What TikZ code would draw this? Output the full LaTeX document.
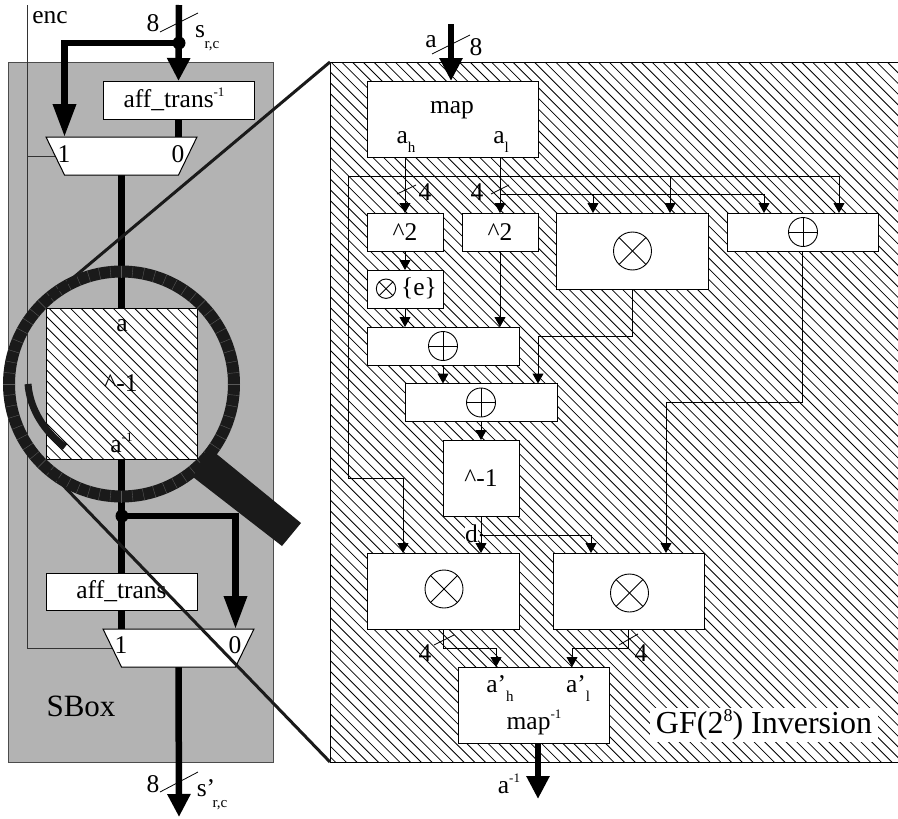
\documentclass[tikz,border=0pt]{standalone}
\usepackage{fontspec}
\setmainfont{Liberation Serif}
\usetikzlibrary{arrows.meta,shapes.geometric}
\definecolor{boxgray}{HTML}{B3B3B3}
\definecolor{lensdark}{HTML}{1A1A1A}
\newcommand{\lab}{\fontsize{25.5}{26}\selectfont}
\newcommand{\supt}[1]{\raisebox{11pt}{\fontsize{13}{13}\selectfont #1}}
\newcommand{\subt}[1]{\raisebox{-9pt}{\fontsize{15}{15}\selectfont #1}}
\newcommand{\symotimes}[3]{\draw[symline] (#1,#2) circle (#3pt);
  \draw[symline] (#1,#2) ++(45:#3pt) -- ++(225:2*#3pt);
  \draw[symline] (#1,#2) ++(135:#3pt) -- ++(315:2*#3pt);}
\newcommand{\symoplus}[3]{\draw[symline] (#1,#2) circle (#3pt);
  \draw[symline] (#1,#2) ++(0:#3pt) -- ++(180:2*#3pt);
  \draw[symline] (#1,#2) ++(90:#3pt) -- ++(270:2*#3pt);}
\newcommand{\muxshape}[1]{\draw[muxbox] ([xshift=-75.5pt,yshift=19pt]#1.center) -- ([xshift=75.5pt,yshift=19pt]#1.center) -- ([xshift=57pt,yshift=-19pt]#1.center) -- ([xshift=-57pt,yshift=-19pt]#1.center) -- cycle;}
\tikzset{
  x=1pt,y=-1pt,
  txt/.style={inner sep=0pt,outer sep=0pt,font=\lab},
  box/.style={draw=black,line width=1pt,fill=white,inner sep=0pt,outer sep=0pt,font=\lab,align=center},
  hatchfill/.style={path picture={\foreach \k in {-650,-639.3,...,650}
      \draw[black,line width=.8pt] ({\k-720},-720) -- ({\k+720},720);}},
  wire/.style={line width=1pt,-{Triangle[width=11pt,length=10pt]}},
  plain/.style={line width=1pt},
  bus/.style={line width=6.5pt,line join=miter},
  busarrow/.style={bus,-{Triangle[width=22pt,length=23pt]}},
  busarrowlong/.style={bus,-{Triangle[width=22pt,length=33pt]}},
  busdot/.style={circle,fill=black,minimum size=13pt,inner sep=0pt,outer sep=0pt},
  wiredot/.style={circle,fill=black,minimum size=3pt,inner sep=0pt,outer sep=0pt},
  tickmark/.style={line width=.8pt},
  symline/.style={line width=.9pt},
  muxbox/.style={draw=black,line width=1pt,fill=white},
  lensline/.style={line width=3pt,lensdark},
}
\begin{document}
\begin{tikzpicture}
\useasboundingbox (0,0) rectangle (898,819);
% SBox background
\node[draw=black!70,line width=1pt,fill=boxgray,minimum width=265pt,minimum height=700pt,inner sep=0pt,outer sep=0pt] (sbox) at (140.5,412) {};
% right panel
\node[draw=black,line width=1pt,fill=white,hatchfill,minimum width=568pt,minimum height=700pt,inner sep=0pt,outer sep=0pt] (panel) at (614,412) {};

% enc
\coordinate (encin) at (27,5);
\coordinate (mux1) at (121.5,156);
\coordinate (mux2) at (178.5,648);
\draw[plain,black!80] (encin) |- ([xshift=-66pt]mux1.center);
\draw[plain,black!80] (encin) |- ([xshift=-66pt]mux2.center);
\node[txt] (enclab) at (50,18) {enc};

% left boxes
\node[box,minimum width=151pt,minimum height=38pt] (affi) at (178.5,100) {};
\node[txt] (affilab) at (174,99) {aff\_trans\supt{-1}};
\node[box,hatchfill,minimum width=151pt,minimum height=151pt] (inv) at (121.5,383.5) {};

% left buses
\coordinate (busin) at (179,5);
\node[busdot] (j1) at (179,43) {};
\draw[busarrow] (busin) -- (affi.north);
\draw[busarrowlong] (j1.center) -| ([xshift=-57pt,yshift=19pt]mux1.center);
\draw[bus] (affi.south) -- ([xshift=57pt,yshift=19pt]mux1.center);
\draw[bus] ([yshift=-19pt]mux1.center) -- (inv.north);
\node[box,minimum width=151pt,minimum height=37pt] (aff) at (121.5,591.5) {};
\draw[bus] (inv.south) -- (aff.north);
\node[busdot] (j2) at (122,516) {};
\draw[busarrowlong] (j2.center) -| ([xshift=57pt,yshift=19pt]mux2.center);
\draw[bus] (aff.south) -- ([xshift=-57pt,yshift=19pt]mux2.center);
\coordinate (busout) at (179,817);
\draw[busarrow] ([yshift=-19pt]mux2.center) -- (busout);
\node[txt] (afflab) at (121.5,591.5) {aff\_trans};

% muxes above the bus ends
\muxshape{mux1}
\muxshape{mux2}
\node[txt] (m1a) at (64,154) {1};
\node[txt] (m1b) at (178,154) {0};
\node[txt] (m2a) at (121,645) {1};
\node[txt] (m2b) at (235,645) {0};

\node[txt] (la) at (122,326) {a};
\node[txt] (lb) at (121,383) {\^{}-1};
\node[txt] (lc) at (121.5,443) {a\supt{-1}};
\node[txt,font=\fontsize{31}{32}\selectfont] (sb) at (81,706) {SBox};

\draw[tickmark] (160,32) -- (198,13);
\node[txt] (l8a) at (153,23) {8};
\node[txt] (ls) at (200,32) {s};
\node[txt,font=\fontsize{15}{15}\selectfont] (lrc) at (212,46) {r,c};
\draw[tickmark] (160,792) -- (198,772);
\node[txt] (l8b) at (153,784) {8};
\node[txt] (lsp) at (206,788) {s’};
\node[txt,font=\fontsize{15}{15}\selectfont] (lrcp) at (220,805) {r,c};

% lens
\node[circle,draw=lensdark,line width=12pt,minimum size=225pt,inner sep=0pt,outer sep=0pt] (lens) at (121.5,384) {};
\foreach \a in {0,5.625,...,359} \draw[black!65,line width=.4pt] (121.5,384) ++(\a:106.5pt) -- ++(\a:12pt);
\draw[lensdark,line width=7pt] (28,384) .. controls (30,410) and (45,432) .. (65,447);
\fill[lensdark] (208,447) -- (301,523) -- (282,546) -- (193,477) -- cycle;
\draw[lensline] (panel.north west) -- (lens.132);
\draw[lensline] (panel.south west) -- (lens.226);

% right boxes
\node[box,minimum width=171pt,minimum height=76pt] (map) at (452.5,119) {};
\node[box,minimum width=76pt,minimum height=38pt] (sqa) at (405,232) {\^{}2};
\node[box,minimum width=76pt,minimum height=38pt] (sqb) at (500,232) {\^{}2};
\node[box,minimum width=152pt,minimum height=76pt] (mula) at (632,251) {};
\node[box,minimum width=151pt,minimum height=38pt] (xora) at (802.5,232) {};
\node[box,minimum width=76pt,minimum height=38pt] (emul) at (405,289) {};
\node[box,minimum width=152pt,minimum height=38pt] (xorb) at (443,346) {};
\node[box,minimum width=152pt,minimum height=38pt] (xorc) at (481,402.5) {};
\node[box,minimum width=76pt,minimum height=76pt] (pinv) at (481,478) {\^{}-1};
\node[box,minimum width=152pt,minimum height=76pt] (mulb) at (443,591) {};
\node[box,minimum width=151pt,minimum height=76pt] (mulc) at (628.5,591) {};
\node[box,minimum width=151pt,minimum height=76pt] (imap) at (533.5,705) {};

\node[txt] (tm) at (452,110) {map};
\node[txt] (tah) at (406,142) {a\subt{h}};
\node[txt] (tal) at (501,142) {a\subt{l}};
\node[txt] (tmi) at (534,722) {map\supt{-1}};
\node[txt] (tah2) at (500,689) {a’\subt{h}};
\node[txt] (tal2) at (578,689) {a’\subt{l}};
\node[txt] (te) at (419,288) {\{e\}};
\symotimes{386}{288.7}{9.7}
\symotimes{632.5}{251}{19}
\symoplus{803}{232}{14.5}
\symoplus{443}{346}{14.5}
\symoplus{481}{402.5}{14.5}
\symotimes{444}{589}{19}
\symotimes{629.5}{593}{19}

% right connectors
\coordinate (ain) at (451,24);
\draw[busarrow] (ain) -- ([xshift=-1.5pt]map.north);
\draw[tickmark] (432,54) -- (470,35);
\node[txt] (ta) at (431,42) {a};
\node[txt] (t8) at (476,47) {8};

\draw[wire] ([xshift=-47.5pt]map.south) -- (sqa.north);
\draw[wire] ([xshift=47.5pt]map.south) -- (sqb.north);
\coordinate (hi) at (405,176);
\coordinate (lo) at (500,194);
\draw[plain] (hi) -- (348,176) -- (348,478) -- (403,478);
\draw[wire] (403,478) -- ([xshift=-40pt]mulb.north);
\draw[plain] (hi) -- (839,176);
\draw[wire] (839,176) -- ([xshift=36.5pt]xora.north);
\draw[wire] (670,176) -- ([xshift=38pt]mula.north);
\draw[plain] (lo) -- (764,194);
\draw[wire] (764,194) -- ([xshift=-38.5pt]xora.north);
\draw[wire] (593,194) -- ([xshift=-39pt]mula.north);
\draw[tickmark] (397,194) -- (416,185);
\draw[tickmark] (491,194) -- (509,185);
\node[txt] (t4a) at (425,192) {4};
\node[txt] (t4b) at (477,192) {4};

\draw[wire] (sqa.south) -- (emul.north);
\draw[wire] (emul.south) -- ([xshift=-38pt]xorb.north);
\draw[wire] (sqb.south) -- ([xshift=57pt]xorb.north);
\draw[wire] (xorb.south) -- ([xshift=-38pt]xorc.north);
\draw[plain] (mula.south) -- (632,336) -- (538,336);
\draw[wire] (538,336) -- ([xshift=57pt]xorc.north);
\draw[wire] (xorc.south) -- (pinv.north);
\node[txt,fill=white,minimum width=13pt,minimum height=17pt] (td) at (471.5,533.5) {d};
\draw[wire] (pinv.south) -- ([xshift=38pt]mulb.north);
\node[wiredot] (j3) at (481,535) {};
\draw[plain] (j3.center) -- (591,535);
\draw[wire] (591,535) -- ([xshift=-37.5pt]mulc.north);
\draw[plain] (xora.south) -- (802.5,402) -- (666,402);
\draw[wire] (666,402) -- ([xshift=37.5pt]mulc.north);
\draw[plain] (mulb.south) -- (443,648) -- (496,648);
\draw[wire] (496,648) -- ([xshift=-37.5pt]imap.north);
\draw[plain] (mulc.south) -- (628.5,648) -- (572,648);
\draw[wire] (572,648) -- ([xshift=38.5pt]imap.north);
\draw[tickmark] (434,645) -- (454,635);
\draw[tickmark] (619,645) -- (638,634);
\node[txt] (t4c) at (425,653) {4};
\node[txt] (t4d) at (641,653) {4};
\coordinate (aout) at (538,799);
\draw[busarrow] ([xshift=4.5pt]imap.south) -- (aout);
\node[txt] (tai) at (509,784) {a\supt{-1}};

\node[fill=white,inner sep=0pt,outer sep=0pt,minimum width=228pt,minimum height=34pt,font=\fontsize{32}{33}\selectfont] (gf) at (764,725) {GF(2\raisebox{12pt}{\fontsize{18}{18}\selectfont 8}) Inversion};
\end{tikzpicture}
\end{document}
